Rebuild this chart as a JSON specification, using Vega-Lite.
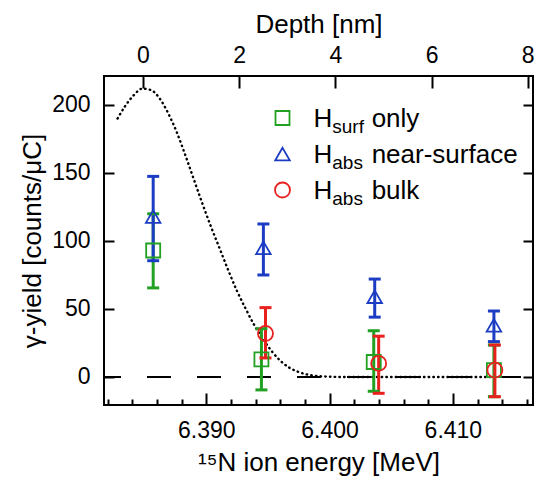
{
  "$schema": "https://vega.github.io/schema/vega-lite/v6.json",
  "width": 429,
  "height": 329,
  "autosize": {"type": "none"},
  "padding": {"left": 104, "top": 76, "right": 8, "bottom": 77},
  "background": "white",
  "datasets": {
    "points": [
      {"series": "surf", "energy": 6.38569, "y": 93, "lo": 65.5, "hi": 120},
      {"series": "surf", "energy": 6.39447, "y": 13, "lo": -9.5, "hi": 35.5},
      {"series": "surf", "energy": 6.40358, "y": 11, "lo": -10.5, "hi": 34},
      {"series": "surf", "energy": 6.41333, "y": 5, "lo": -14.5, "hi": 23.5},
      {"series": "bulk", "energy": 6.39480, "y": 32, "lo": 14, "hi": 51},
      {"series": "bulk", "energy": 6.40398, "y": 10, "lo": -12, "hi": 30},
      {"series": "bulk", "energy": 6.41341, "y": 5, "lo": -14.5, "hi": 23.5},
      {"series": "near", "energy": 6.38569, "y": 118, "lo": 85.5, "hi": 147.5},
      {"series": "near", "energy": 6.39463, "y": 95, "lo": 75, "hi": 112.5},
      {"series": "near", "energy": 6.40366, "y": 59, "lo": 44, "hi": 72},
      {"series": "near", "energy": 6.41333, "y": 38, "lo": 26, "hi": 48.5}
    ],
    "curve": [
      {"energy": 6.3828, "y": 190},
      {"energy": 6.3834, "y": 199},
      {"energy": 6.3841, "y": 207},
      {"energy": 6.3848, "y": 212},
      {"energy": 6.3855, "y": 211},
      {"energy": 6.3862, "y": 205},
      {"energy": 6.3869, "y": 194},
      {"energy": 6.3876, "y": 180},
      {"energy": 6.3883, "y": 163},
      {"energy": 6.3890, "y": 145},
      {"energy": 6.3897, "y": 127},
      {"energy": 6.3904, "y": 110},
      {"energy": 6.3911, "y": 94},
      {"energy": 6.3918, "y": 78},
      {"energy": 6.3925, "y": 63},
      {"energy": 6.3932, "y": 50},
      {"energy": 6.3939, "y": 38},
      {"energy": 6.3946, "y": 28},
      {"energy": 6.3953, "y": 19},
      {"energy": 6.3960, "y": 12},
      {"energy": 6.3967, "y": 7},
      {"energy": 6.3974, "y": 4},
      {"energy": 6.3981, "y": 2},
      {"energy": 6.3990, "y": 0.7},
      {"energy": 6.4000, "y": 0.2},
      {"energy": 6.4010, "y": 0},
      {"energy": 6.4135, "y": 0}
    ],
    "baseline": [
      {"level": 0}
    ],
    "legend": [
      {"key": "surf", "main": "H", "sub": "surf", "rest": "only"},
      {"key": "near", "main": "H", "sub": "abs", "rest": "near-surface"},
      {"key": "bulk", "main": "H", "sub": "abs", "rest": "bulk"}
    ]
  },
  "layer": [
    {
      "layer": [
        {
          "data": {"name": "baseline"},
          "mark": {"type": "rule", "color": "black", "strokeWidth": 2, "strokeDash": [24, 26], "strokeDashOffset": 38},
          "encoding": {
            "y": {"field": "level", "type": "quantitative", "scale": {"domain": [-20.6, 221.3], "nice": false, "zero": false}, "axis": null}
          }
        },
        {
          "data": {"name": "curve"},
          "mark": {"type": "line", "color": "black", "strokeWidth": 2.4, "strokeDash": [0.5, 4.2], "strokeCap": "round", "interpolate": "monotone"},
          "encoding": {
            "x": {"field": "energy", "type": "quantitative", "scale": {"domain": [6.3817, 6.4165], "nice": false, "zero": false},
                  "axis": {"orient": "bottom", "values": [6.382, 6.384, 6.386, 6.388, 6.392, 6.394, 6.396, 6.398, 6.402, 6.404, 6.406, 6.408, 6.412, 6.414, 6.416], "tickSize": -6, "labels": false, "title": null}},
            "y": {"field": "y", "type": "quantitative", "scale": {"domain": [-20.6, 221.3], "nice": false, "zero": false},
                  "axis": {"orient": "right", "values": [0, 50, 100, 150, 200], "tickSize": -10, "labels": false, "title": null}}
          }
        },
        {
          "data": {"name": "points"},
          "mark": {"type": "rule", "strokeWidth": 3},
          "encoding": {
            "x": {"field": "energy", "type": "quantitative", "scale": {"domain": [6.3817, 6.4165], "nice": false, "zero": false}, "axis": null},
            "y": {"field": "lo", "type": "quantitative", "scale": {"domain": [-20.6, 221.3], "nice": false, "zero": false}, "axis": null},
            "y2": {"field": "hi"},
            "color": {"field": "series", "type": "nominal", "scale": {"domain": ["surf", "near", "bulk"], "range": ["#22a022", "#1c3cc4", "#e8201e"]}, "legend": null}
          }
        },
        {
          "data": {"name": "points"},
          "mark": {"type": "tick", "orient": "horizontal", "size": 12, "thickness": 3, "opacity": 1},
          "encoding": {
            "x": {"field": "energy", "type": "quantitative", "scale": {"domain": [6.3817, 6.4165], "nice": false, "zero": false}, "axis": null},
            "y": {"field": "lo", "type": "quantitative", "scale": {"domain": [-20.6, 221.3], "nice": false, "zero": false}, "axis": null},
            "color": {"field": "series", "type": "nominal", "scale": {"domain": ["surf", "near", "bulk"], "range": ["#22a022", "#1c3cc4", "#e8201e"]}, "legend": null}
          }
        },
        {
          "data": {"name": "points"},
          "mark": {"type": "tick", "orient": "horizontal", "size": 12, "thickness": 3, "opacity": 1},
          "encoding": {
            "x": {"field": "energy", "type": "quantitative", "scale": {"domain": [6.3817, 6.4165], "nice": false, "zero": false}, "axis": null},
            "y": {"field": "hi", "type": "quantitative", "scale": {"domain": [-20.6, 221.3], "nice": false, "zero": false}, "axis": null},
            "color": {"field": "series", "type": "nominal", "scale": {"domain": ["surf", "near", "bulk"], "range": ["#22a022", "#1c3cc4", "#e8201e"]}, "legend": null}
          }
        },
        {
          "data": {"name": "points"},
          "mark": {"type": "point", "filled": false, "strokeWidth": 1.8, "opacity": 1},
          "encoding": {
            "x": {"field": "energy", "type": "quantitative", "scale": {"domain": [6.3817, 6.4165], "nice": false, "zero": false},
                  "axis": {"orient": "bottom", "values": [6.39, 6.40, 6.41], "format": ".3f", "tickSize": -12, "labelPadding": 26, "title": "¹⁵N ion energy [MeV]", "titlePadding": 7}},
            "y": {"field": "y", "type": "quantitative", "scale": {"domain": [-20.6, 221.3], "nice": false, "zero": false},
                  "axis": {"orient": "left", "values": [0, 50, 100, 150, 200], "tickSize": -10, "labelPadding": 24, "title": "γ-yield [counts/μC]", "titlePadding": 6}},
            "color": {"field": "series", "type": "nominal", "scale": {"domain": ["surf", "near", "bulk"], "range": ["#22a022", "#1c3cc4", "#e8201e"]}, "legend": null},
            "shape": {"field": "series", "type": "nominal", "scale": {"domain": ["surf", "near", "bulk"], "range": ["square", "triangle-up", "circle"]}, "legend": null},
            "size": {"field": "series", "type": "ordinal", "scale": {"domain": ["surf", "near", "bulk"], "range": [196, 225, 133]}, "legend": null}
          }
        }
      ],
      "resolve": {"axis": {"x": "independent", "y": "independent"}}
    },
    {
      "data": {"name": "baseline"},
      "mark": {"type": "point", "opacity": 0},
      "encoding": {
        "x": {"field": "level", "type": "quantitative", "scale": {"domain": [-0.81, 8.11], "nice": false, "zero": false},
              "axis": {"orient": "top", "values": [0, 2, 4, 6, 8], "tickSize": -12, "labelPadding": 21, "title": "Depth [nm]", "titlePadding": 7}}
      }
    },
    {
      "data": {"name": "legend"},
      "layer": [
        {
          "mark": {"type": "point", "filled": false, "strokeWidth": 1.8, "opacity": 1},
          "encoding": {
            "x": {"datum": 6.39618, "type": "quantitative", "scale": {"domain": [6.3817, 6.4165], "nice": false, "zero": false}, "axis": null},
            "y": {"field": "key", "type": "ordinal", "scale": {"type": "point", "domain": ["surf", "near", "bulk"], "range": [42, 114], "padding": 0}, "axis": null},
            "color": {"field": "key", "type": "nominal", "scale": {"domain": ["surf", "near", "bulk"], "range": ["#22a022", "#1c3cc4", "#e8201e"]}, "legend": null},
            "shape": {"field": "key", "type": "nominal", "scale": {"domain": ["surf", "near", "bulk"], "range": ["square", "triangle-up", "circle"]}, "legend": null},
            "size": {"field": "key", "type": "ordinal", "scale": {"domain": ["surf", "near", "bulk"], "range": [196, 225, 133]}, "legend": null}
          }
        },
        {
          "mark": {"type": "text", "align": "left", "baseline": "alphabetic", "dy": 9, "fontSize": 26, "font": "Liberation Sans", "color": "black"},
          "encoding": {
            "x": {"datum": 6.3987, "type": "quantitative", "scale": {"domain": [6.3817, 6.4165], "nice": false, "zero": false}, "axis": null},
            "y": {"field": "key", "type": "ordinal", "scale": {"type": "point", "domain": ["surf", "near", "bulk"], "range": [42, 114], "padding": 0}, "axis": null},
            "text": {"field": "main"}
          }
        },
        {
          "mark": {"type": "text", "align": "left", "baseline": "alphabetic", "dy": 15, "fontSize": 19, "font": "Liberation Sans", "color": "black"},
          "encoding": {
            "x": {"datum": 6.40022, "type": "quantitative", "scale": {"domain": [6.3817, 6.4165], "nice": false, "zero": false}, "axis": null},
            "y": {"field": "key", "type": "ordinal", "scale": {"type": "point", "domain": ["surf", "near", "bulk"], "range": [42, 114], "padding": 0}, "axis": null},
            "text": {"field": "sub"}
          }
        },
        {
          "mark": {"type": "text", "align": "left", "baseline": "alphabetic", "dy": 9, "fontSize": 26, "font": "Liberation Sans", "color": "black"},
          "encoding": {
            "x": {"datum": 6.40341, "type": "quantitative", "scale": {"domain": [6.3817, 6.4165], "nice": false, "zero": false}, "axis": null},
            "y": {"field": "key", "type": "ordinal", "scale": {"type": "point", "domain": ["surf", "near", "bulk"], "range": [42, 114], "padding": 0}, "axis": null},
            "text": {"field": "rest"}
          }
        }
      ]
    }
  ],
  "resolve": {"scale": {"x": "independent", "y": "independent"}, "axis": {"x": "independent", "y": "independent"}},
  "config": {
    "view": {"stroke": "black", "strokeWidth": 2},
    "axis": {"grid": false, "domain": false, "tickColor": "black", "tickWidth": 2, "labelFont": "Liberation Sans", "labelFontSize": 23, "labelColor": "black", "titleFont": "Liberation Sans", "titleFontSize": 26, "titleFontWeight": "normal", "titleColor": "black"}
  }
}
